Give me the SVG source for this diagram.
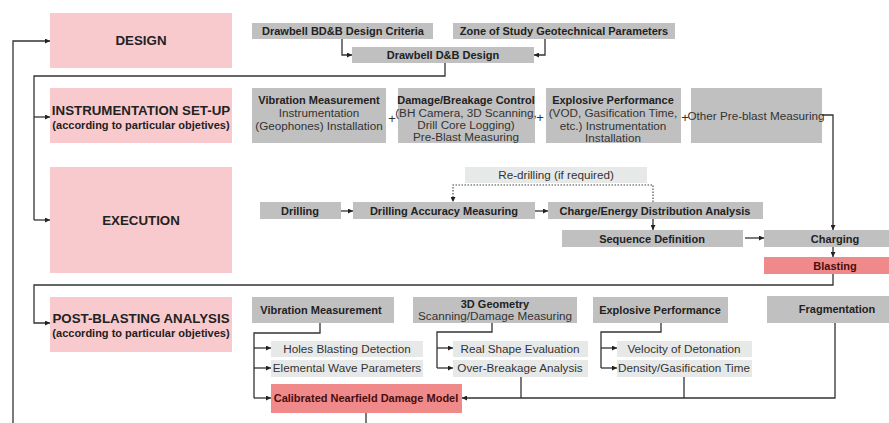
<svg xmlns="http://www.w3.org/2000/svg" width="889" height="423" viewBox="0 0 889 423">
<defs>
<marker id="arr" viewBox="0 0 6 6" refX="6" refY="3" markerWidth="5" markerHeight="5" markerUnits="userSpaceOnUse" orient="auto">
<path d="M0,0 L6,3 L0,6 z" fill="#222"/>
</marker>
<style>
.stage{fill:#f9cacd}
.g{fill:#c0c0c0}
.l{fill:#e7e9e9}
.red{fill:#f08a8a}
text{font-family:"Liberation Sans",Arial,sans-serif;fill:#222;text-anchor:middle}
.h{font-size:13.3px;font-weight:bold}
.hs{font-size:11px;font-weight:bold}
.b{font-size:11px;font-weight:bold}
.r{font-size:11.7px;fill:#333}
.dr{fill:#4a0d0d}
.ln{fill:none;stroke:#333;stroke-width:1.3}
.arw{marker-end:url(#arr)}
.dot{fill:none;stroke:#444;stroke-width:1.1;stroke-dasharray:1.5 1.5}
</style>
</defs>
<rect width="889" height="423" fill="#fff"/>

<g id="design">
<rect class="stage" x="50" y="13" width="182" height="55"/>
<text class="h" x="141" y="45">DESIGN</text>
</g>
<g id="criteria">
<rect class="g" x="252" y="23" width="181" height="16"/>
<text class="b" x="343" y="35">Drawbell BD&amp;B Design Criteria</text>
</g>
<g id="zone">
<rect class="g" x="453" y="23" width="222" height="16"/>
<text class="b" x="564" y="35">Zone of Study Geotechnical Parameters</text>
</g>
<g id="dbdesign">
<rect class="g" x="352" y="47" width="182" height="16"/>
<text class="b" x="443" y="59">Drawbell D&amp;B Design</text>
</g>

<g id="instrumentation">
<rect class="stage" x="50" y="88" width="182" height="55"/>
<text class="h" x="141" y="115">INSTRUMENTATION SET-UP</text>
<text class="hs" x="141" y="129">(according to particular objetives)</text>
</g>
<g id="vib-inst">
<rect class="g" x="252" y="88" width="134" height="55"/>
<text class="b" x="319" y="104">Vibration Measurement</text>
<text class="r" x="319" y="117">Instrumentation</text>
<text class="r" x="319" y="130">(Geophones) Installation</text>
</g>
<g id="damage">
<rect class="g" x="398" y="88" width="137" height="55"/>
<text class="b" x="466" y="104">Damage/Breakage Control</text>
<text class="r" x="466" y="117">(BH Camera, 3D Scanning,</text>
<text class="r" x="466" y="129">Drill Core Logging)</text>
<text class="r" x="466" y="141">Pre-Blast Measuring</text>
</g>
<g id="explosive-inst">
<rect class="g" x="546" y="88" width="135" height="55"/>
<text class="b" x="613" y="104">Explosive Performance</text>
<text class="r" x="613" y="117">(VOD, Gasification Time,</text>
<text class="r" x="613" y="130">etc.) Instrumentation</text>
<text class="r" x="613" y="142">Installation</text>
</g>
<g id="other">
<rect class="g" x="691" y="88" width="131" height="55"/>
<text class="r" x="756" y="120">Other Pre-blast Measuring</text>
</g>
<g id="plus">
<text class="r" x="392" y="123" style="font-size:13px">+</text>
<text class="r" x="540" y="122" style="font-size:13px">+</text>
<text class="r" x="685" y="122" style="font-size:13px">+</text>
</g>

<g id="execution">
<rect class="stage" x="50" y="167" width="182" height="106"/>
<text class="h" x="141" y="225">EXECUTION</text>
</g>
<g id="drilling">
<rect class="g" x="260" y="202" width="81" height="17"/>
<text class="b" x="300" y="215">Drilling</text>
</g>
<g id="accuracy">
<rect class="g" x="353" y="202" width="182" height="17"/>
<text class="b" x="444" y="215">Drilling Accuracy Measuring</text>
</g>
<g id="charge">
<rect class="g" x="548" y="202" width="215" height="17"/>
<text class="b" x="655" y="215">Charge/Energy Distribution Analysis</text>
</g>
<g id="redrilling">
<rect class="l" x="465" y="167" width="182" height="16"/>
<text class="r" x="556" y="179">Re-drilling (if required)</text>
</g>
<g id="sequence">
<rect class="g" x="562" y="230" width="181" height="17"/>
<text class="b" x="652" y="243">Sequence Definition</text>
</g>
<g id="charging">
<rect class="g" x="764" y="230" width="125" height="17"/>
<text class="b" x="835" y="243">Charging</text>
</g>
<g id="blasting">
<rect class="red" x="764" y="257" width="125" height="17"/>
<text class="b dr" x="835" y="270">Blasting</text>
</g>

<g id="postblasting">
<rect class="stage" x="50" y="297" width="182" height="55"/>
<text class="h" x="141" y="323">POST-BLASTING ANALYSIS</text>
<text class="hs" x="141" y="337">(according to particular objetives)</text>
</g>
<g id="vib-post">
<rect class="g" x="252" y="297" width="142" height="26"/>
<text class="b" x="321" y="314">Vibration Measurement</text>
</g>
<g id="geometry">
<rect class="g" x="413" y="297" width="164" height="26"/>
<text class="b" x="495" y="308">3D Geometry</text>
<text class="r" x="495" y="320">Scanning/Damage Measuring</text>
</g>
<g id="explosive-post">
<rect class="g" x="593" y="297" width="135" height="26"/>
<text class="b" x="660" y="314">Explosive Performance</text>
</g>
<g id="fragmentation">
<rect class="g" x="767" y="296" width="122" height="27"/>
<text class="b" x="837" y="313">Fragmentation</text>
</g>
<g id="holes">
<rect class="l" x="271" y="341" width="152" height="16"/>
<text class="r" x="347" y="353">Holes Blasting Detection</text>
</g>
<g id="elemental">
<rect class="l" x="271" y="360" width="152" height="17"/>
<text class="r" x="347" y="372">Elemental Wave Parameters</text>
</g>
<g id="realshape">
<rect class="l" x="453" y="341" width="135" height="16"/>
<text class="r" x="520" y="353">Real Shape Evaluation</text>
</g>
<g id="overbreakage">
<rect class="l" x="453" y="360" width="135" height="17"/>
<text class="r" x="520" y="372">Over-Breakage Analysis</text>
</g>
<g id="velocity">
<rect class="l" x="617" y="341" width="135" height="16"/>
<text class="r" x="684" y="353">Velocity of Detonation</text>
</g>
<g id="density">
<rect class="l" x="617" y="360" width="135" height="17"/>
<text class="r" x="684" y="372">Density/Gasification Time</text>
</g>
<g id="calibrated">
<rect class="red" x="271" y="384" width="191" height="29"/>
<text class="b dr" x="366" y="402">Calibrated Nearfield Damage Model</text>
</g>

<g id="connectors">
<path class="ln arw" d="M13,423 V41 H50"/>
<path class="ln arw" d="M342,39 V55 H352"/>
<path class="ln arw" d="M545,39 V55 H534"/>
<path class="ln" d="M445,63 V76 H34 V220"/>
<path class="ln arw" d="M34,117 H50"/>
<path class="ln arw" d="M34,220 H50"/>
<path class="ln arw" d="M822,115 H833 V230"/>
<path class="ln arw" d="M341,211 H353"/>
<path class="ln arw" d="M535,211 H548"/>
<path class="dot arw" d="M653,202 V185 H453 V202"/>
<path class="ln arw" d="M653,219 V230"/>
<path class="ln arw" d="M745,238 H764"/>
<path class="ln arw" d="M833,247 V257"/>
<path class="ln arw" d="M833,274 V285 H34 V323 H50"/>
<path class="ln" d="M320,323 V333 H254 V398"/>
<path class="ln arw" d="M254,348 H271"/>
<path class="ln arw" d="M254,368 H271"/>
<path class="ln arw" d="M254,398 H271"/>
<path class="ln" d="M492,323 V332 H437 V368"/>
<path class="ln arw" d="M437,348 H453"/>
<path class="ln arw" d="M437,368 H453"/>
<path class="ln" d="M661,323 V332 H601 V368"/>
<path class="ln arw" d="M601,348 H617"/>
<path class="ln arw" d="M601,368 H617"/>
<path class="ln arw" d="M835,323 V398 H462"/>
<path class="ln" d="M521,377 V398"/>
<path class="ln" d="M684,377 V398"/>
<path class="ln" d="M366,413 V423"/>
</g>
</svg>
